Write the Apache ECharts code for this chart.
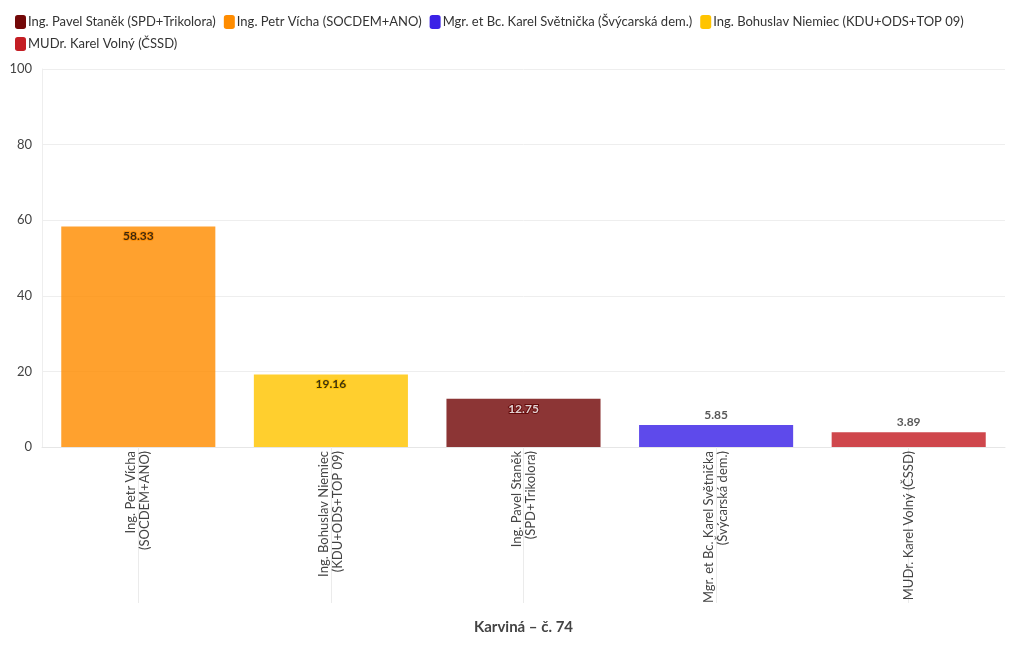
<!DOCTYPE html>
<html><head><meta charset="utf-8">
<script src="https://cdn.jsdelivr.net/npm/echarts@6/dist/echarts.min.js"></script>
<style>html,body{margin:0;padding:0;background:#fff}#c{width:1020px;height:650px}</style>
</head><body><div id="c"></div>
<script>
const categories = ["Ing. Petr Vícha\n(SOCDEM+ANO)", "Ing. Bohuslav Niemiec\n(KDU+ODS+TOP 09)", "Ing. Pavel Staněk\n(SPD+Trikolora)", "Mgr. et Bc. Karel Světnička\n(Švýcarská dem.)", "MUDr. Karel Volný (ČSSD)"];
const seriesNames = ["Ing. Pavel Staněk (SPD+Trikolora)", "Ing. Petr Vícha (SOCDEM+ANO)", "Mgr. et Bc. Karel Světnička (Švýcarská dem.)", "Ing. Bohuslav Niemiec (KDU+ODS+TOP 09)", "MUDr. Karel Volný (ČSSD)"];
const seriesCategory = [2, 0, 3, 1, 4];
const seriesValues = [12.75, 58.33, 5.85, 19.16, 3.89];
const seriesColors = ["#730808", "#ff8c00", "#3b22e6", "#ffc400", "#c41e24"];
const yTicks = [0, 20, 40, 60, 80, 100];
const xTitle = "Karviná – č. 74";

const font = "Lato, 'Noto Sans', sans-serif";
const series = seriesNames.map((name, i) => {
  const data = categories.map((c, j) => j === seriesCategory[i] ? seriesValues[i] : null);
  const inside = seriesValues[i] > 10;
  const dark = i === 0;
  return {
    name, type: 'bar', data, barWidth: '80%', barGap: '-100%',
    itemStyle: { color: seriesColors[i], opacity: 0.82 },
    emphasis: { disabled: true },
    label: {
      show: true, position: inside ? 'insideTop' : 'top', distance: 4,
      fontFamily: font, fontWeight: 'bold', fontSize: 12,
      color: inside ? (dark ? '#fff' : '#111') : '#333',
      textBorderColor: inside ? (dark ? '#5a0000' : seriesColors[i]) : 'transparent',
      textBorderWidth: inside ? 2 : 0
    }
  };
});

const chart = echarts.init(document.getElementById('c'), null, { renderer: 'canvas' });
chart.setOption({
  animation: false,
  textStyle: { fontFamily: font },
  legend: {
    left: 10, top: 10, width: 1000, itemWidth: 11, itemHeight: 14, itemGap: 8,
    icon: 'roundRect', itemStyle: { opacity: 1 },
    textStyle: { fontFamily: font, fontSize: 13, color: '#333', padding: [0, 0, 0, -3] },
    data: seriesNames
  },
  grid: { left: 42, right: 15, top: 69, bottom: 203, containLabel: false },
  xAxis: {
    type: 'category', data: categories,
    name: xTitle, nameLocation: 'middle', nameGap: 173,
    nameTextStyle: { fontFamily: font, fontSize: 15, fontWeight: 'bold', color: '#444' },
    axisLine: { show: true, lineStyle: { color: '#e6e6e6' } },
    axisTick: { show: true, alignWithLabel: true, length: 156, lineStyle: { color: '#ebebeb' } },
    axisLabel: { rotate: 90, fontFamily: font, fontSize: 13, color: '#444', margin: 4, lineHeight: 14, interval: 0 }
  },
  yAxis: {
    type: 'value', min: 0, max: 100, interval: 20,
    axisLine: { show: true, lineStyle: { color: '#eeeeee' } },
    axisTick: { show: false },
    splitLine: { lineStyle: { color: '#eeeeee' } },
    axisLabel: { fontFamily: font, fontSize: 13, color: '#444', margin: 10,
      formatter: v => yTicks.includes(v) ? String(v) : '' }
  },
  series
});
</script></body></html>
